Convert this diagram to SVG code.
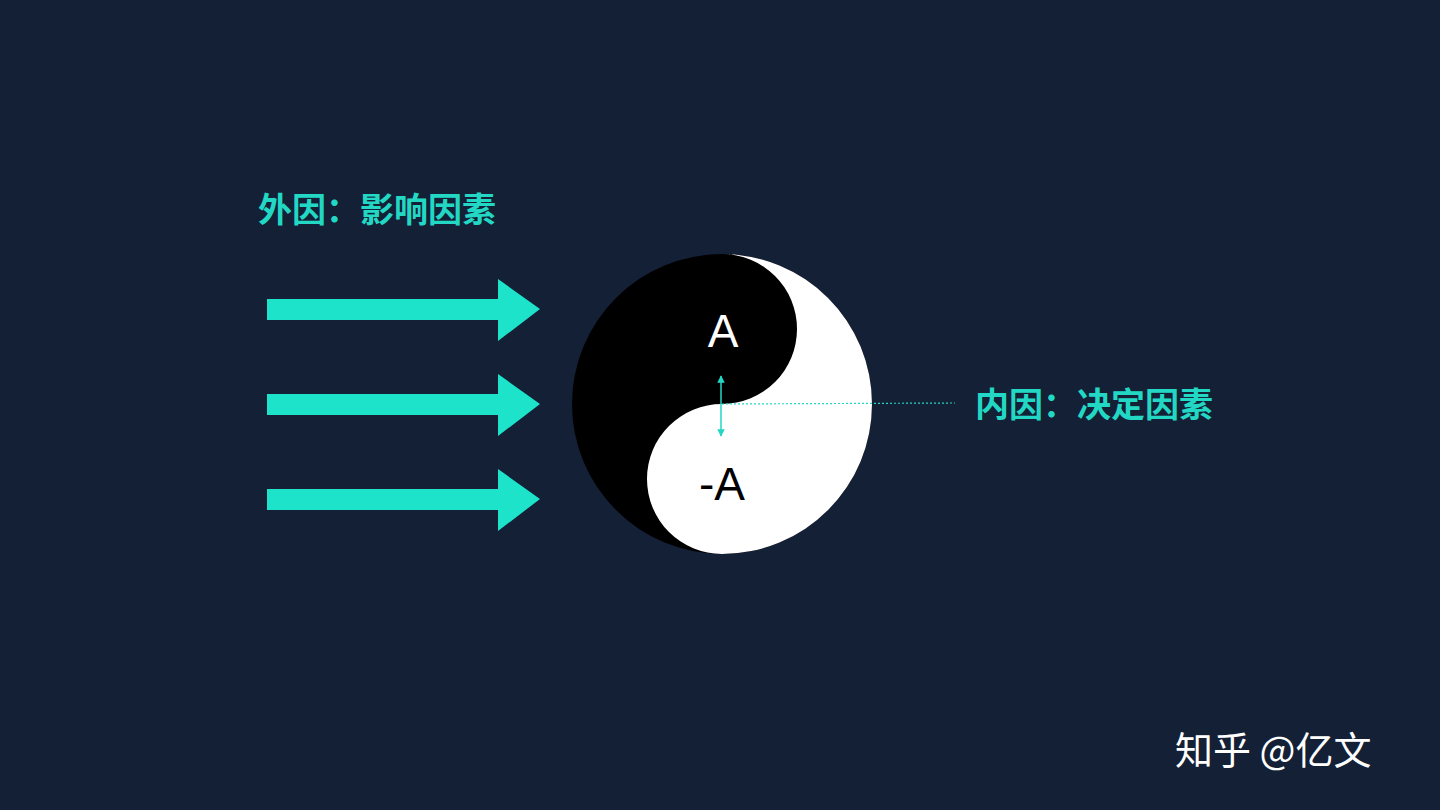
<svg xmlns="http://www.w3.org/2000/svg" width="1440" height="810" viewBox="0 0 1440 810">
<defs>
<style>
.cn{font-family:"Noto Sans CJK SC","Noto Sans",sans-serif;font-weight:700;fill:#22d8c4;font-size:34px}
.arr{fill:#1ee3cb}
.lt{font-family:"Liberation Sans",Arial,sans-serif;font-size:46px}
</style>
<marker id="ah" viewBox="0 0 10 10" refX="9" refY="5" markerWidth="5" markerHeight="5" orient="auto-start-reverse"><path d="M0,0 L10,5 L0,10 z" fill="#22d8c4"/></marker>
</defs>
<rect width="1440" height="810" fill="#142035"/>
<g id="arrows">
<path class="arr" d="M267,299 H498 V279 L540,309 L498,341 V320 H267 Z"/>
<path class="arr" d="M267,394 H498 V374 L540,404 L498,436 V415 H267 Z"/>
<path class="arr" d="M267,489 H498 V469 L540,499 L498,531 V510 H267 Z"/>
</g>
<g id="yinyang">
<circle cx="722" cy="404" r="150" fill="#000"/>
<path d="M722,254 A150,150 0 0,1 722,554 A75,75 0 0,1 722,404 A75,75 0 0,0 722,254 Z" fill="#fff"/>
<text class="lt" x="723" y="347" text-anchor="middle" fill="#fff">A</text>
<text class="lt" x="722" y="500" text-anchor="middle" fill="#000">-A</text>
</g>
<g id="connectors">
<line x1="721" y1="376" x2="721" y2="436" stroke="#22d8c4" stroke-width="1.5" marker-start="url(#ah)" marker-end="url(#ah)"/>
<line x1="722" y1="404" x2="955" y2="403" stroke="#22d8c4" stroke-width="1.2" stroke-dasharray="2,2"/>
</g>
<text class="cn" x="258" y="222">外因：影响因素</text>
<text class="cn" x="975" y="417">内因：决定因素</text>
<text x="1175" y="764" font-family="Noto Sans CJK SC,sans-serif" font-size="38" fill="#fff">知乎 @亿文</text>
</svg>
